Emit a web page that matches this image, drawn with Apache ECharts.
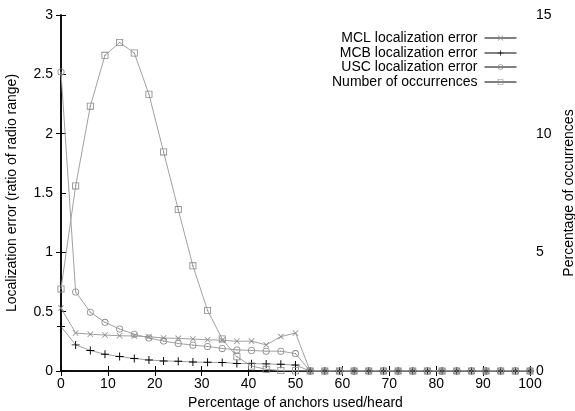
<!DOCTYPE html>
<html><head><meta charset="utf-8">
<script src="https://cdn.jsdelivr.net/npm/echarts@6/dist/echarts.min.js"></script>
<style>html,body{margin:0;padding:0;background:#fff}#c{width:575px;height:411px}</style>
</head><body><div id="c"></div>
<script>
const xs = [0,3.125,6.25,9.375,12.5,15.625,18.75,21.875,25,28.125,31.25,34.375,37.5,40.625,43.75,46.875,50,53.125,56.25,59.375,62.5,65.625,68.75,71.875,75,78.125,81.25,84.375,87.5,90.625,93.75,96.875,100];
const tail = [0,0,0,0,0,0,0,0,0,0,0,0,0,0,0,0];
const mcl = [0.53,0.32,0.31,0.303,0.297,0.295,0.289,0.278,0.275,0.269,0.263,0.26,0.25,0.252,0.22,0.29,0.32,0].concat(tail.slice(0,15));
const mcb = [0.375,0.22,0.173,0.142,0.122,0.105,0.093,0.085,0.082,0.076,0.073,0.072,0.064,0.062,0.06,0.056,0.05,0].concat(tail.slice(0,15));
const usc = [2.52,0.666,0.496,0.41,0.354,0.31,0.278,0.252,0.232,0.218,0.207,0.19,0.178,0.173,0.167,0.167,0.147,0].concat(tail.slice(0,15));
const occ = [3.46,7.8,11.16,13.3,13.84,13.4,11.66,9.23,6.8,4.43,2.55,1.35,0.6,0.21,0.07,0.02,0.01,0].concat(tail.slice(0,15));
const names = ['MCL localization error','MCB localization error','USC localization error','Number of occurrences'];

const pairs = a => xs.map((x,i)=>[x,a[i]]);
const font = 'Liberation Sans, Arial, sans-serif';
const lineCol = '#a0a0a0';
const markCol = '#8a8a8a';
const symX = 'path://M0,0.9L0.9,0L5,4.1L9.1,0L10,0.9L5.9,5L10,9.1L9.1,10L5,5.9L0.9,10L0,9.1L4.1,5Z';
const symPlus = 'path://M4.4,0H5.6V4.4H10V5.6H5.6V10H4.4V5.6H0V4.4H4.4Z';
const symSq = 'path://M0,0H10V10H0Z M1.2,1.2V8.8H8.8V1.2Z M4.2,4.2H5.8V5.8H4.2Z';
const symCi = 'path://M5,0A5,5 0 1,1 5,10A5,5 0 1,1 5,0Z M5,1.2A3.8,3.8 0 1,0 5,8.8A3.8,3.8 0 1,0 5,1.2Z M5,4.2A0.8,0.8 0 1,1 5,5.8A0.8,0.8 0 1,1 5,4.2Z';
const chart = echarts.init(document.getElementById('c'), null, {renderer:'canvas'});
const legendBase = (name, top) => ({
  data:[name], orient:'vertical', right: 58, top: top, align:'right',
  itemWidth: 32, itemHeight: 7, itemGap: 0, padding: 0,
  lineStyle:{color:'#000',width:1},
  textStyle:{fontFamily:font,fontSize:14,color:'#000',padding:[0,2,0,0]}
});
chart.setOption({
  animation:false,
  grid:{left:61,right:45,top:15,bottom:40,outerBoundsMode:'none'},
  legend:[legendBase(names[0],31),legendBase(names[1],46),legendBase(names[2],60),legendBase(names[3],75)],
  xAxis:[{type:'value',min:0,max:100,interval:10,position:'bottom',
    name:'Percentage of anchors used/heard',nameLocation:'middle',nameGap:21,
    nameTextStyle:{fontFamily:font,fontSize:14,color:'#000'},
    axisLine:{lineStyle:{color:'#000',width:1.5}},
    axisTick:{inside:true,length:5,lineStyle:{color:'#000'}},
    axisLabel:{fontFamily:font,fontSize:14,color:'#000',margin:6},
    splitLine:{show:false}},
   {type:'value',min:0,max:100,interval:10,position:'top',
    axisLine:{lineStyle:{color:'#000',width:1.5}},
    axisTick:{inside:true,length:5,lineStyle:{color:'#000'}},
    axisLabel:{show:false},splitLine:{show:false}}],
  yAxis:[{type:'value',min:0,max:3,interval:0.5,position:'left',
    name:'Localization error (ratio of radio range)',nameLocation:'middle',nameGap:42,
    nameTextStyle:{fontFamily:font,fontSize:14,color:'#000'},
    axisLine:{show:true,lineStyle:{color:'#000',width:1.5}},
    axisTick:{show:true,inside:true,length:5,lineStyle:{color:'#000'}},
    axisLabel:{fontFamily:font,fontSize:14,color:'#000',margin:8},
    splitLine:{show:false}},
   {type:'value',min:0,max:15,interval:5,position:'right',
    name:'Percentage of occurrences',nameLocation:'middle',nameGap:28,nameRotate:90,
    nameTextStyle:{fontFamily:font,fontSize:14,color:'#000'},
    axisLine:{show:true,lineStyle:{color:'#000',width:1.5}},
    axisTick:{show:true,inside:true,length:5,lineStyle:{color:'#000'}},
    axisLabel:{fontFamily:font,fontSize:14,color:'#000',margin:6},
    splitLine:{show:false}}],
  series:[
    {name:names[0],type:'line',data:pairs(mcl),symbol:symX,symbolSize:6,
     lineStyle:{color:lineCol,width:1},itemStyle:{color:markCol}},
    {name:names[1],type:'line',data:pairs(mcb),symbol:symPlus,symbolSize:8,
     lineStyle:{color:lineCol,width:1},itemStyle:{color:'#000'}},
    {name:names[2],type:'line',data:pairs(usc),symbol:symCi,symbolSize:7,
     lineStyle:{color:lineCol,width:1},itemStyle:{color:markCol}},
    {name:names[3],type:'line',yAxisIndex:1,data:pairs(occ),symbol:symSq,symbolSize:7,
     lineStyle:{color:lineCol,width:1},itemStyle:{color:markCol}}
  ]
});
</script></body></html>
